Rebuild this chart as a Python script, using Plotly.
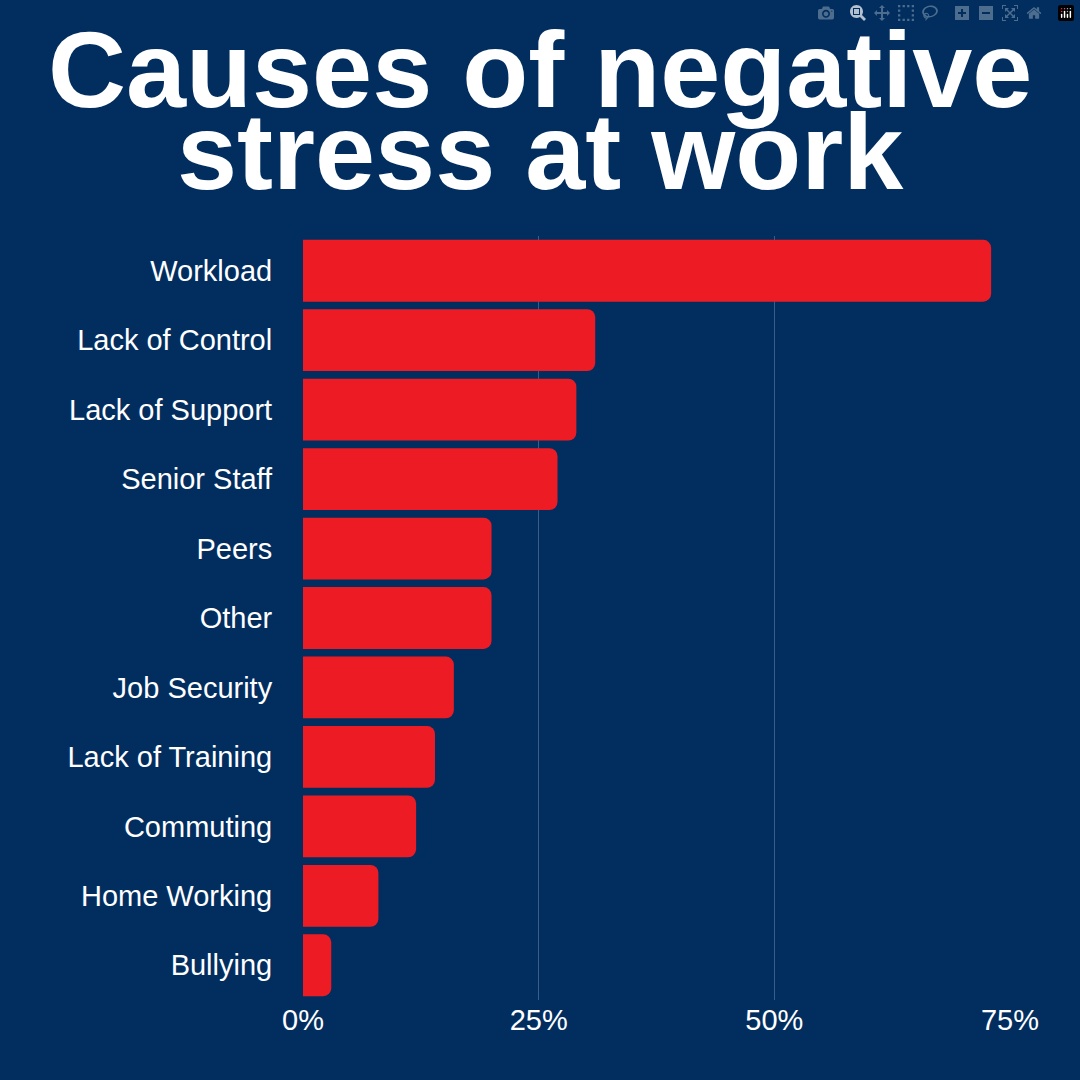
import plotly.graph_objects as go

categories = ["Workload", "Lack of Control", "Lack of Support", "Senior Staff", "Peers",
              "Other", "Job Security", "Lack of Training", "Commuting", "Home Working", "Bullying"]
values = [73, 31, 29, 27, 20, 20, 16, 14, 12, 8, 3]
tick_vals = [0, 25, 50, 75]
tick_text = ["0%", "25%", "50%", "75%"]
title_lines = ["Causes of negative", "stress at work"]

bg = "#012E5F"
fig = go.Figure(go.Bar(
    x=values, y=categories, orientation="h",
    marker=dict(color="#ED1C24", cornerradius=8, line=dict(width=0)),
))
top, plot_h = 236, 764
for line, ypx in zip(title_lines, [70, 152]):
    fig.add_annotation(text="<b>" + line + "</b>", xref="paper", yref="paper",
                       x=(540 - 303) / 707, y=1 + (top - ypx) / plot_h,
                       xanchor="center", yanchor="middle", showarrow=False,
                       font=dict(family="Liberation Sans, Arial", size=108, color="white"))
fig.update_layout(
    width=1080, height=1080,
    paper_bgcolor=bg, plot_bgcolor=bg,
    margin=dict(l=303, r=70, t=236, b=80),
    bargap=0.11,
    showlegend=False,
    font=dict(family="Liberation Sans, Arial", color="white", size=29),
)
fig.update_xaxes(range=[0, 75], tickvals=tick_vals, ticktext=tick_text,
                 showgrid=True, gridcolor="rgba(160,180,210,0.35)", gridwidth=1,
                 zeroline=False, showline=False, ticks="", tickfont=dict(size=29, color="white"))
fig.update_yaxes(autorange="reversed", showgrid=False, zeroline=False, ticks="outside",
                 ticklen=24, tickcolor="rgba(0,0,0,0)", tickfont=dict(size=29, color="white"))
fig.write_html("out.html", post_script="document.body.style.margin='0';document.body.style.background='%s';" % bg)
